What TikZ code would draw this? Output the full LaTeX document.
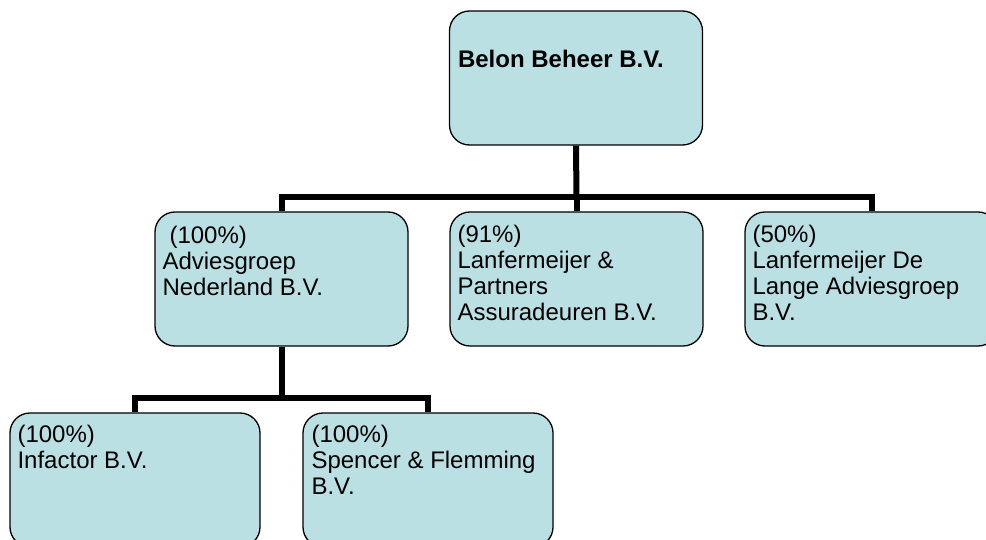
\documentclass[tikz,border=0pt]{standalone}
\usepackage{fontspec}
\setmainfont{Liberation Sans}
\definecolor{boxfill}{RGB}{186,224,227}
\tikzset{
  orgbox/.style={draw=black, line width=1.3pt, fill=boxfill, rectangle, rounded corners=20pt,
    minimum width=253pt, minimum height=134pt, inner sep=0pt},
  lbl/.style={anchor=base west, inner sep=0pt, font=\fontsize{24}{26}\selectfont},
  conn/.style={draw=black, line width=6pt}
}
\newcommand{\boxtext}[1]{\parbox[t]{245pt}{\raggedright #1}}
\begin{document}
\begin{tikzpicture}[x=1pt,y=-1pt]
\useasboundingbox (0,0) rectangle (986,540);
% boxes
\node[orgbox] (top) at (576,78) {};
\node[orgbox] (b1) at (281.5,279) {};
\node[orgbox] (b2) at (576.5,279) {};
\node[orgbox] (b3) at (871.5,279) {};
\node[orgbox, minimum width=250pt] (b4) at (135,480) {};
\node[orgbox, minimum width=250pt] (b5) at (428,480) {};
% junctions
\coordinate (j1) at (576.5,197);
\coordinate (j2) at (281.5,398);
% connectors
\draw[conn] (top.south) -- (j1);
\draw[conn] (j1) -- (b2.north);
\draw[conn] (b1.north) |- (j1) -| (b3.north);
\draw[conn] (b1.south) -- (j2);
\draw[conn] (b4.north) |- (j2) -| (b5.north);
% labels
\node[lbl] (ttop) at ([xshift=9pt,yshift=-57pt]top.north west) {\bfseries Belon Beheer B.V.};
\node[lbl] (t1) at ([xshift=8pt,yshift=-32pt]b1.north west) {\boxtext{\hspace*{7pt}(100\%)\\Adviesgroep\\Nederland B.V.}};
\node[lbl] (t2) at ([xshift=8pt,yshift=-31pt]b2.north west) {\boxtext{(91\%)\\Lanfermeijer \&\\Partners\\Assuradeuren B.V.}};
\node[lbl] (t3) at ([xshift=8pt,yshift=-31pt]b3.north west) {\boxtext{(50\%)\\Lanfermeijer De\\Lange Adviesgroep\\B.V.}};
\node[lbl] (t4) at ([xshift=8pt,yshift=-30pt]b4.north west) {\boxtext{(100\%)\\Infactor B.V.}};
\node[lbl] (t5) at ([xshift=9pt,yshift=-30pt]b5.north west) {\boxtext{(100\%)\\Spencer \& Flemming\\B.V.}};
\end{tikzpicture}
\end{document}
